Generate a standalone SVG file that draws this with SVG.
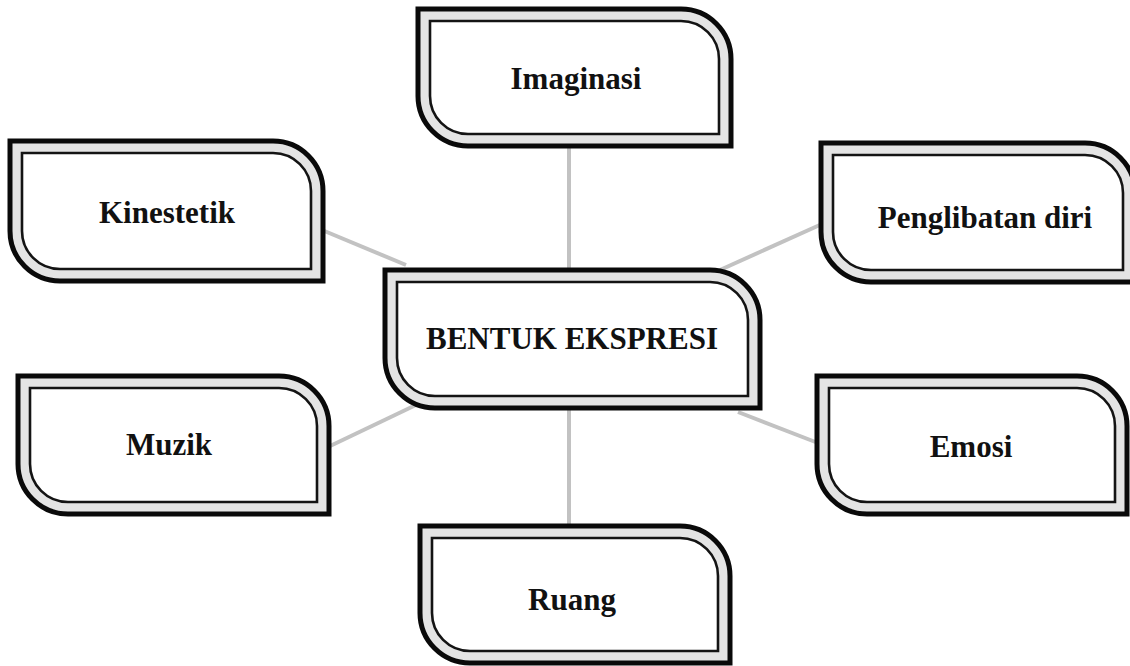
<svg xmlns="http://www.w3.org/2000/svg" width="1130" height="666" viewBox="0 0 1130 666">
  <style>
    .frame { fill: #e4e4e4; stroke: #0a0a0a; stroke-width: 5; }
    .panel { fill: #ffffff; stroke: #141414; stroke-width: 2.6; }
    .label { font-family: "Liberation Serif", "Times New Roman", serif; font-weight: bold; font-size: 31px; fill: #111; text-anchor: middle; }
    .link { stroke: #c2c2c2; stroke-width: 4; stroke-linecap: butt; fill: none; }
  </style>
  <rect width="1130" height="666" fill="#ffffff"/>

  <!-- connectors: spokes from the hub to each outer card -->
  <g id="connectors">
    <line class="link" x1="569" y1="146" x2="569" y2="272"/>
    <line class="link" x1="569" y1="406" x2="569" y2="528"/>
    <line class="link" x1="322" y1="230" x2="406" y2="265"/>
    <line class="link" x1="328" y1="447" x2="418" y2="404"/>
    <line class="link" x1="822" y1="224" x2="720" y2="270"/>
    <line class="link" x1="818" y1="443" x2="738" y2="412"/>
  </g>

  <!-- hub card -->
  <g id="node-bentuk-ekspresi">
    <path class="frame" d="M385,270 H710 A50,50 0 0 1 760,320 V408 H435 A50,50 0 0 1 385,358 Z"/>
    <path class="panel" d="M397,282 H710 A38,38 0 0 1 748,320 V396 H435 A38,38 0 0 1 397,358 Z"/>
    <text class="label" x="572" y="349">BENTUK EKSPRESI</text>
  </g>

  <g id="node-imaginasi">
    <path class="frame" d="M418,9 H681 A50,50 0 0 1 731,59 V146 H468 A50,50 0 0 1 418,96 Z"/>
    <path class="panel" d="M430,21 H681 A38,38 0 0 1 719,59 V134 H468 A38,38 0 0 1 430,96 Z"/>
    <text class="label" x="576" y="89">Imaginasi</text>
  </g>

  <g id="node-kinestetik">
    <path class="frame" d="M10,141 H273 A50,50 0 0 1 323,191 V281 H60 A50,50 0 0 1 10,231 Z"/>
    <path class="panel" d="M22,153 H273 A38,38 0 0 1 311,191 V269 H60 A38,38 0 0 1 22,231 Z"/>
    <text class="label" x="167" y="223">Kinestetik</text>
  </g>

  <g id="node-penglibatan-diri">
    <path class="frame" d="M821,143 H1085 A50,50 0 0 1 1135,193 V282 H871 A50,50 0 0 1 821,232 Z"/>
    <path class="panel" d="M833,155 H1085 A38,38 0 0 1 1123,193 V270 H871 A38,38 0 0 1 833,232 Z"/>
    <text class="label" x="985" y="228">Penglibatan diri</text>
  </g>

  <g id="node-muzik">
    <path class="frame" d="M18,376 H279 A50,50 0 0 1 329,426 V514 H68 A50,50 0 0 1 18,464 Z"/>
    <path class="panel" d="M30,388 H279 A38,38 0 0 1 317,426 V502 H68 A38,38 0 0 1 30,464 Z"/>
    <text class="label" x="169" y="455">Muzik</text>
  </g>

  <g id="node-emosi">
    <path class="frame" d="M817,376 H1077 A50,50 0 0 1 1127,426 V514 H867 A50,50 0 0 1 817,464 Z"/>
    <path class="panel" d="M829,388 H1077 A38,38 0 0 1 1115,426 V502 H867 A38,38 0 0 1 829,464 Z"/>
    <text class="label" x="971" y="457">Emosi</text>
  </g>

  <g id="node-ruang">
    <path class="frame" d="M420,526 H680 A50,50 0 0 1 730,576 V663 H470 A50,50 0 0 1 420,613 Z"/>
    <path class="panel" d="M432,538 H680 A38,38 0 0 1 718,576 V651 H470 A38,38 0 0 1 432,613 Z"/>
    <text class="label" x="572" y="610">Ruang</text>
  </g>
</svg>
